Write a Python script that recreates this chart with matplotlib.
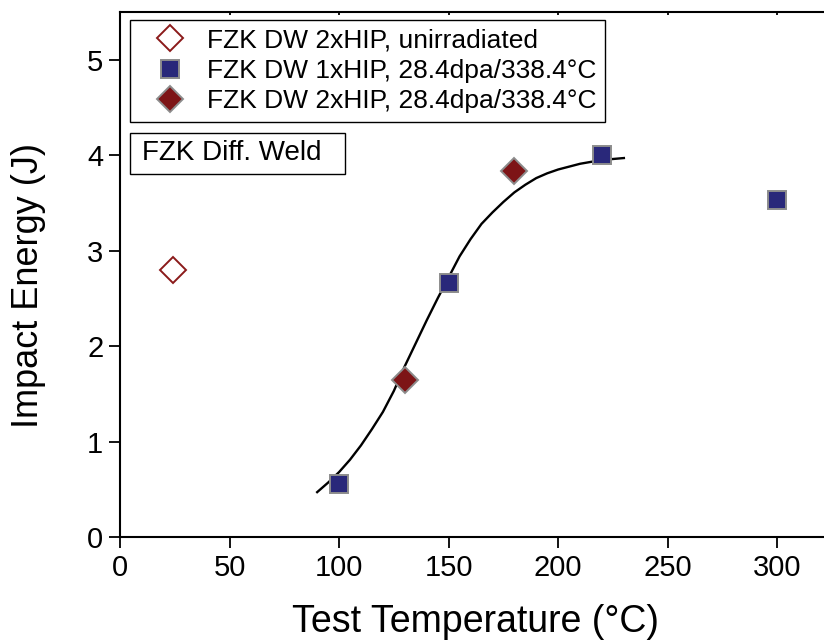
import matplotlib
matplotlib.use("Agg")
import matplotlib.pyplot as plt
from matplotlib.lines import Line2D
from matplotlib.patches import Rectangle

plt.rcParams['font.family'] = ['Liberation Sans', 'DejaVu Sans']

# Data
unirr_T = [24]
unirr_E = [2.80]
hip1_T = [100, 150, 220, 300]
hip1_E = [0.56, 2.66, 4.00, 3.53]
hip2_T = [130, 180]
hip2_E = [1.64, 3.83]
fit_T = [90, 95, 100, 105, 110, 115, 120, 125, 130, 135, 140, 145, 150, 155, 160,
         165, 170, 175, 180, 185, 190, 195, 200, 205, 210, 215, 220, 225, 230]
fit_E = [0.47, 0.57, 0.68, 0.81, 0.96, 1.13, 1.31, 1.53, 1.79, 2.03, 2.27, 2.50, 2.72, 2.94, 3.12,
         3.28, 3.40, 3.51, 3.61, 3.69, 3.76, 3.81, 3.85, 3.88, 3.91, 3.93, 3.95, 3.96, 3.97]

xticks = [0, 50, 100, 150, 200, 250, 300]
yticks = [0, 1, 2, 3, 4, 5]

W, H = 824, 641
fig = plt.figure(figsize=(W / 100, H / 100), dpi=100)
AX_L, AX_R, AX_T, AX_B = 120, W + 8, 12, 537
axw_px = AX_R - AX_L
axh_px = AX_B - AX_T
ax = fig.add_axes([AX_L / W, (H - AX_B) / H, axw_px / W, axh_px / H])


def axc(px, py):
    """pixel position in figure -> axes fraction"""
    return (px - AX_L) / axw_px, (AX_B - py) / axh_px


navy = '#29287A'
dred = '#7D1416'
edge = '#8C8C8C'

ax.plot(fit_T, fit_E, color='black', lw=1.7, zorder=2, solid_joinstyle='round')
ax.plot(unirr_T, unirr_E, ls='none', marker='D', ms=13.5, mfc='white', mec='#8B1A1A', mew=1.4, zorder=3)
ax.plot(hip1_T, hip1_E, ls='none', marker='s', ms=13.2, mfc=navy, mec=edge, mew=1.4, zorder=3)
ax.plot(hip2_T, hip2_E, ls='none', marker='D', ms=13.2, mfc=dred, mec=edge, mew=1.4, zorder=3)

ax.set_xlim(0, 325)
ax.set_ylim(0, 5.5)
ax.set_xticks(xticks)
ax.set_yticks(yticks)
ax.tick_params(axis='both', which='major', direction='out', length=8, width=1.3, labelsize=21, pad=4)
for s in ['left', 'bottom', 'top']:
    ax.spines[s].set_linewidth(1.5)
ax.spines['right'].set_visible(False)
# tiny top ticks
secax = ax.secondary_xaxis('top')
secax.set_xticks(xticks)
secax.tick_params(direction='in', length=2, width=1.3, labeltop=False)
secax.spines['top'].set_visible(False)

ax.set_xlabel('Test Temperature (°C)', fontsize=27, labelpad=16)
ax.set_ylabel('Impact Energy (J)', fontsize=26)
ax.yaxis.set_label_coords(*axc(46, 286))

handles = [
    Line2D([], [], ls='none', marker='D', ms=13.5, mfc='white', mec='#8B1A1A', mew=1.4),
    Line2D([], [], ls='none', marker='s', ms=13.2, mfc=navy, mec=edge, mew=1.4),
    Line2D([], [], ls='none', marker='D', ms=13.2, mfc=dred, mec=edge, mew=1.4),
]
labels = ['FZK DW 2xHIP, unirradiated',
          'FZK DW 1xHIP, 28.4dpa/338.4°C',
          'FZK DW 2xHIP, 28.4dpa/338.4°C']
leg = ax.legend(handles, labels, loc='upper left',
                bbox_to_anchor=axc(130, 20),
                borderaxespad=0, fontsize=19, frameon=True, fancybox=False,
                edgecolor='black', framealpha=1, handlelength=2.4, handletextpad=0.2,
                labelspacing=0.24, borderpad=0.32)
leg.get_frame().set_linewidth(1.0)

# annotation box
bx0, by0 = axc(130, 174)
bx1, by1 = axc(345, 133)
ax.add_patch(Rectangle((bx0, by0), bx1 - bx0, by1 - by0, transform=ax.transAxes,
                       fc='white', ec='black', lw=1.0, zorder=4))
ax.text(*axc(142, 153.5), 'FZK Diff. Weld', transform=ax.transAxes,
        fontsize=20, va='center', ha='left', zorder=5)

fig.savefig('out.png', dpi=100)
